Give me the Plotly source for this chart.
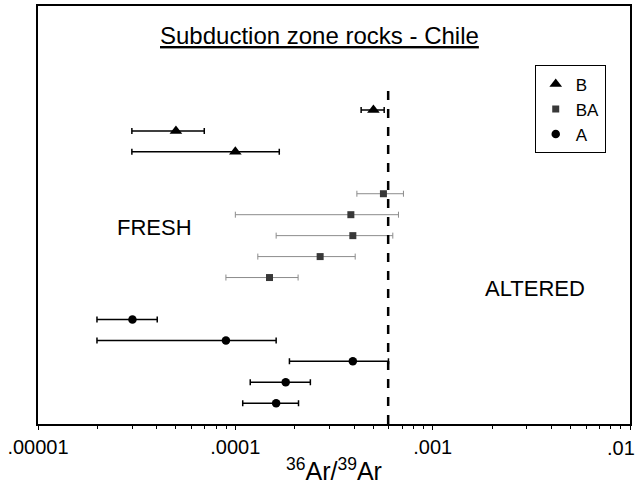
import plotly.graph_objects as go

# ---- data (36Ar/39Ar ratios) ----
b_x = [5.01e-4, 5.0e-5, 1.0e-4]
b_lo = [4.34e-4, 2.99e-5, 2.99e-5]
b_hi = [5.68e-4, 6.96e-5, 1.67e-4]
b_row = [0, 1, 2]

ba_x = [5.63e-4, 3.85e-4, 3.94e-4, 2.69e-4, 1.49e-4]
ba_lo = [4.13e-4, 1.0e-4, 1.61e-4, 1.30e-4, 8.96e-5]
ba_hi = [7.11e-4, 6.71e-4, 6.28e-4, 4.05e-4, 2.08e-4]
ba_row = [4, 5, 6, 7, 8]

a_x = [3.01e-5, 8.96e-5, 3.94e-4, 1.80e-4, 1.61e-4]
a_lo = [1.99e-5, 1.99e-5, 1.88e-4, 1.19e-4, 1.09e-4]
a_hi = [4.02e-5, 1.61e-4, 5.97e-4, 2.40e-4, 2.09e-4]
a_row = [10, 11, 12, 13, 14]

threshold = 5.95e-4
tick_vals = [1e-5, 1e-4, 1e-3, 1e-2]
tick_text = [".00001", ".0001", ".001", ".01"]

FONT = "Liberation Sans, Arial, sans-serif"


def err(x, lo, hi):
    return dict(
        type="data",
        symmetric=False,
        array=[h - v for v, h in zip(x, hi)],
        arrayminus=[v - l for v, l in zip(x, lo)],
    )


fig = go.Figure()

fig.add_trace(go.Scatter(
    x=b_x, y=b_row, mode="markers", name="B",
    marker=dict(symbol="triangle-up", size=11, color="black"),
    error_x=dict(**err(b_x, b_lo, b_hi), color="black", thickness=1.5, width=3),
))
fig.add_trace(go.Scatter(
    x=ba_x, y=ba_row, mode="markers", name="BA",
    marker=dict(symbol="square", size=7, color="#383838"),
    error_x=dict(**err(ba_x, ba_lo, ba_hi), color="#8c8c8c", thickness=1, width=3),
))
fig.add_trace(go.Scatter(
    x=a_x, y=a_row, mode="markers", name="A",
    marker=dict(symbol="circle", size=8.5, color="black"),
    error_x=dict(**err(a_x, a_lo, a_hi), color="black", thickness=1.5, width=3),
))

minor_vals = [m * 10 ** e for e in (-5, -4, -3) for m in range(2, 10)]

fig.add_shape(type="line", xref="x", yref="paper", x0=threshold, x1=threshold,
              y0=0, y1=0.809, line=dict(color="black", width=2.5, dash="dash"))

fig.add_annotation(text="Subduction zone rocks - Chile", xref="paper", yref="paper",
                   x=0.476, y=0.93, xanchor="center", yanchor="middle", showarrow=False,
                   font=dict(family=FONT, size=24, color="black", lineposition="under"))
fig.add_annotation(text="FRESH", xref="paper", yref="paper", x=0.196, y=0.469,
                   xanchor="center", yanchor="middle",
                   showarrow=False, font=dict(family=FONT, size=22, color="black"))
fig.add_annotation(text="ALTERED", xref="paper", yref="paper", x=0.8395, y=0.325,
                   xanchor="center", yanchor="middle",
                   showarrow=False, font=dict(family=FONT, size=22, color="black"))
# last tick label, kept inside the page like in the original
fig.add_annotation(text=tick_text[-1], xref="paper", yref="paper", x=1.0, y=0,
                   xanchor="right", yanchor="middle", xshift=7, yshift=-24,
                   showarrow=False, font=dict(family=FONT, size=20, color="black"))

fig.update_layout(
    width=639, height=488,
    margin=dict(l=38, r=9, t=6, b=64),
    paper_bgcolor="white", plot_bgcolor="white",
    font=dict(family=FONT, size=18, color="black"),
    showlegend=True,
    legend=dict(x=0.959, y=0.858, xanchor="right", yanchor="top",
                bordercolor="black", borderwidth=1, bgcolor="white",
                font=dict(size=17), itemwidth=30, tracegroupgap=0),
    xaxis=dict(type="log", range=[-5, -2], tickvals=tick_vals,
               ticktext=tick_text[:-1] + [""],
               ticks="outside", ticklen=4, tickcolor="black", automargin=False,
               minor=dict(tickvals=minor_vals, ticks="outside", ticklen=3, tickcolor="black"),
               showline=True, linecolor="black", linewidth=1.5, mirror=True,
               showgrid=False, zeroline=False,
               tickfont=dict(size=20),
               title=dict(text="<sup>36</sup>Ar/<sup>39</sup>Ar", font=dict(size=25), standoff=6)),
    yaxis=dict(range=[14.99, -4.96], showticklabels=False, ticks="", automargin=False,
               showline=True, linecolor="black", linewidth=1.5, mirror=True,
               showgrid=False, zeroline=False),
)

fig.write_html("out.html", config={"displayModeBar": False},
               post_script="document.body.style.margin='0';document.body.style.padding='0';")
